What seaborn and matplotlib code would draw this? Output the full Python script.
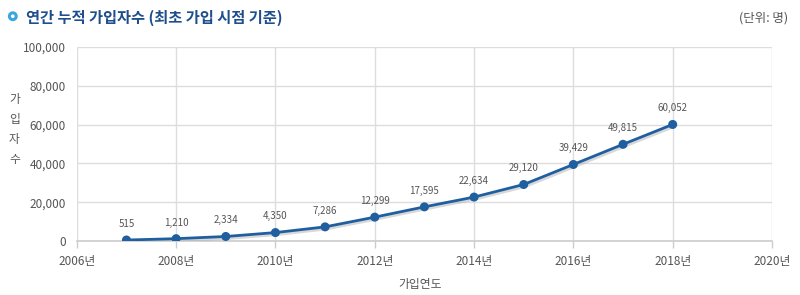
import matplotlib
matplotlib.use("Agg")
import matplotlib.pyplot as plt
import matplotlib.patheffects as pe
from matplotlib.patches import Ellipse
import seaborn as sns
import pandas as pd

years = [2007, 2008, 2009, 2010, 2011, 2012, 2013, 2014, 2015, 2016, 2017, 2018]
members = [515, 1210, 2334, 4350, 7286, 12299, 17595, 22634, 29120, 39429, 49815, 60052]
x_ticks = [2006, 2008, 2010, 2012, 2014, 2016, 2018, 2020]
y_ticks = [0, 20000, 40000, 60000, 80000, 100000]
title = "연간 누적 가입자수 (최초 가입 시점 기준)"
unit = "(단위: 명)"
xlabel = "가입연도"
ylabel = "가입자수"

sns.set_theme(style="white")
plt.rcParams['font.family'] = ['Noto Sans CJK KR', 'DejaVu Sans']

df = pd.DataFrame({"year": years, "members": members})

fig = plt.figure(figsize=(8, 2.95), dpi=100)
ax = fig.add_axes([0.096, 0.183, 0.869, 0.658])

line_color = "#1f5fa0"
sns.lineplot(data=df, x="year", y="members", ax=ax, color=line_color, linewidth=2.0,
             marker="o", markersize=6.5, markeredgewidth=0, zorder=3,
             path_effects=[pe.SimpleLineShadow(offset=(1, -1.5), shadow_color="#aaaaaa", alpha=0.45),
                           pe.Normal()])

ax.set_xlim(2006, 2020)
ax.set_ylim(0, 100000)
ax.set_xticks(x_ticks)
ax.set_xticklabels([f"{t}년" for t in x_ticks])
ax.set_yticks(y_ticks)
ax.set_yticklabels([f"{t:,}" for t in y_ticks])
ax.grid(True, color="#dddddd", linewidth=1)
ax.set_axisbelow(True)
for s in ["top", "right", "left"]:
    ax.spines[s].set_visible(False)
ax.spines["bottom"].set_color("#cccccc")
ax.spines["bottom"].set_linewidth(1.2)
ax.tick_params(axis="x", which="both", bottom=True, length=5, color="#cccccc", width=1,
               labelsize=8.5, labelcolor="#555555", pad=5)
ax.tick_params(axis="y", length=0, labelsize=8.5, labelcolor="#555555", pad=8)
ax.set_xlabel("")
ax.set_ylabel("")

for x, y in zip(years, members):
    ax.annotate(f"{y:,}", (x, y), xytext=(0, 8), textcoords="offset points",
                ha="center", va="bottom", fontsize=7, color="#555555")

fig.text(0.018, 0.56, "\n".join(ylabel), ha="center", va="center", fontsize=8.5,
         color="#555555", linespacing=1.7)
fig.text(0.525, 0.035, xlabel, ha="center", va="center", fontsize=8.5, color="#555555")

w = 0.0085
fig.patches.append(Ellipse((0.016, 0.945), w, w * 800 / 295, transform=fig.transFigure,
                   facecolor="white", edgecolor="#3aa6e0", linewidth=2.2))
fig.text(0.033, 0.94, title, ha="left", va="center", fontsize=11, fontweight="bold",
         color="#1f4e8c")
fig.text(0.985, 0.94, unit, ha="right", va="center", fontsize=9, color="#555555")

fig.savefig("out.png", dpi=100)
